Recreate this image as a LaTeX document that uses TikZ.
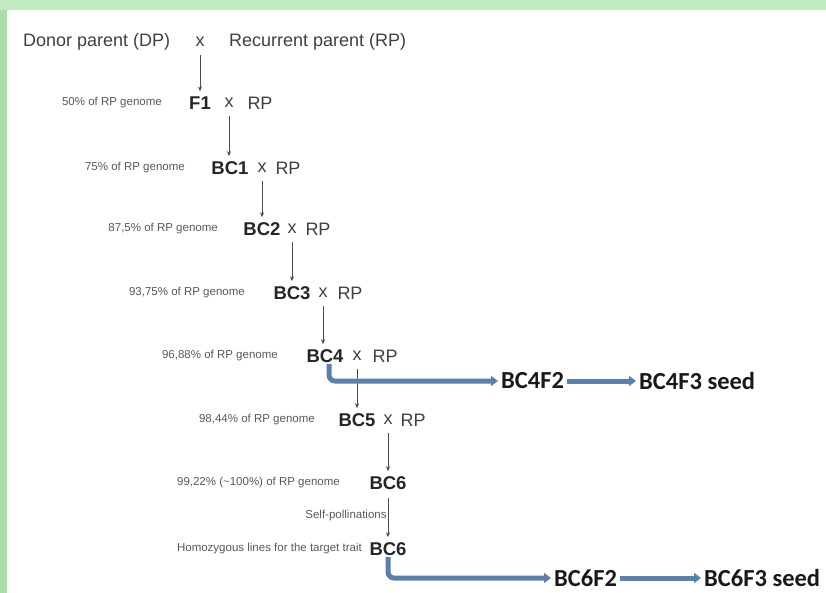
\documentclass[tikz,border=0pt]{standalone}
\usepackage{fontspec}
\setmainfont{Liberation Sans}
\newfontfamily\calfont{Carlito}
\usepackage{tikz}
\usetikzlibrary{positioning,arrows.meta}

\definecolor{bandgreen}{HTML}{C3EBC0}
\definecolor{sidegreen}{HTML}{A9DDA4}
\definecolor{flowblue}{HTML}{5981AE}

\tikzset{
  gen/.style={font=\fontsize{18.5}{20}\selectfont\bfseries, text=black!85, inner sep=1pt},
  cross/.style={font=\fontsize{18}{20}\selectfont, text=black!75, inner sep=1pt},
  pct/.style={font=\fontsize{11.5}{13}\selectfont, text=black!65, inner sep=0pt},
  offspring/.style={font=\calfont\bfseries\fontsize{24.5}{26}\selectfont, text=black!90, inner sep=1pt, anchor=west},
  stepline/.style={draw=black!70, line width=0.8pt, -{Stealth[length=5pt,width=4pt]}, shorten <=7pt, shorten >=4pt},
  bluearrow/.style={draw=flowblue, line width=5pt, rounded corners=6pt, -{Triangle[length=7pt,width=10pt]}},
}

\begin{document}
\begin{tikzpicture}[x=1pt,y=-1pt]
  % page and green frame
  \useasboundingbox (0,0) rectangle (826,593);
  \fill[bandgreen] (0,0) rectangle (826,593);
  \fill[sidegreen] (0,10) rectangle (7,593);
  \fill[white] (7,10) rectangle (826,593);

  % the first cross
  \node[cross, anchor=west] (dp) at (22,42) {Donor parent (DP)};
  \node[cross] (c0) at (200,42) {x};
  \node[cross, anchor=west] (rp0) at (228,42) {Recurrent parent (RP)};

  % backcross generations
  \foreach \i/\y/\lx/\gx/\cx/\rx/\g/\t in {
      1/103/162/200/229/260/F1/{50\% of RP genome},
      2/168/185/230/262/288/BC1/{75\% of RP genome},
      3/229/218/262/292/318/BC2/{87,5\% of RP genome},
      4/293/245/292/323/350/BC3/{93,75\% of RP genome},
      5/356/278/325/357/385/BC4/{96,88\% of RP genome},
      6/420/315/357/388/413/BC5/{98,44\% of RP genome}}{
    \node[pct, anchor=east] (l\i) at (\lx,\y) {\t};
    \node[gen] (g\i) at (\gx,\y) {\g};
    \node[cross] (c\i) at (\cx,\y) {x};
    \node[cross] (r\i) at (\rx,\y) {RP};
  }

  \node[pct, anchor=east] (l7) at (340,483) {99,22\% (\textasciitilde100\%) of RP genome};
  \node[gen] (g7) at (388,483) {BC6};
  \node[pct, anchor=east] (l8) at (362,549) {Homozygous lines for the target trait};
  \node[gen] (g8) at (388,549) {BC6};

  \foreach \a/\b in {0/1,1/2,2/3,3/4,4/5,5/6,6/7}
    \draw[stepline] (c\a.south) -- (c\a.south |- g\b.north);
  \draw[stepline] (g7.south) -- node[pct, anchor=east, xshift=-1pt] (self) {Self-pollinations} (g8.north);

  % side branches
  \node[offspring] (bc4f2) at (500,381) {BC4F2};
  \node[offspring] (bc4f3) at (638,381) {BC4F3 seed};
  \node[offspring] (bc6f2) at (553,578) {BC6F2};
  \node[offspring] (bc6f3) at (703,578) {BC6F3 seed};

  \draw[bluearrow] ([xshift=4pt]g5.south) |- ([xshift=-2pt]bc4f2.west);
  \draw[bluearrow] ([xshift=2pt]bc4f2.east) -- ([xshift=-2pt]bc4f3.west);
  \draw[bluearrow] (g8.south) |- ([xshift=-2pt]bc6f2.west);
  \draw[bluearrow] ([xshift=2pt]bc6f2.east) -- ([xshift=-2pt]bc6f3.west);
\end{tikzpicture}
\end{document}
